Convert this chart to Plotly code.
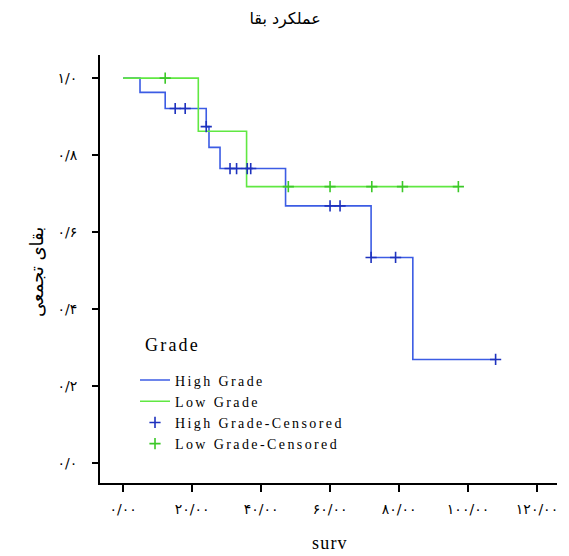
import plotly.graph_objects as go

# Kaplan-Meier step data (time, survival)
high_times = [0, 4.9, 12.2, 24.1, 24.9, 28.1, 47.1, 71.9, 84.0, 108.0]
high_surv = [1.0, 0.963, 0.921, 0.874, 0.820, 0.765, 0.668, 0.534, 0.269, 0.269]
low_times = [0, 21.8, 35.8, 97.2]
low_surv = [1.0, 0.862, 0.718, 0.718]

# Censored observations
high_cens_times = [15.1, 18.0, 24.1, 31.0, 32.9, 36.0, 37.0, 60.0, 62.9, 71.9, 79.0, 108.0]
high_cens_surv = [0.921, 0.921, 0.874, 0.765, 0.765, 0.765, 0.765, 0.668, 0.668, 0.534, 0.534, 0.269]
low_cens_times = [12.2, 47.9, 60.0, 72.1, 81.0, 97.2]
low_cens_surv = [1.0, 0.718, 0.718, 0.718, 0.718, 0.718]

# Tick labels (Persian digits)
x_tick_vals = [0, 20, 40, 60, 80, 100, 120]
x_tick_text = ["۰/۰۰", "۲۰/۰۰", "۴۰/۰۰", "۶۰/۰۰", "۸۰/۰۰", "۱۰۰/۰۰", "۱۲۰/۰۰"]
y_tick_vals = [0.0, 0.2, 0.4, 0.6, 0.8, 1.0]
y_tick_text = ["۰/۰", "۰/۲", "۰/۴", "۰/۶", "۰/۸", "۱/۰"]

series_names = ["High Grade", "Low Grade", "High Grade-Censored", "Low Grade-Censored"]

BLUE = "rgb(60,92,228)"
BLUE_DARK = "rgb(30,50,190)"
GREEN = "rgb(96,232,66)"
GREEN_DARK = "rgb(60,200,40)"
SERIF = "Liberation Serif, DejaVu Serif, serif"
AR = "DejaVu Sans, Liberation Serif, serif"


def spaced(s, px):
    return '<span style="letter-spacing:%spx">%s</span>' % (px, s)


fig = go.Figure()
fig.add_trace(go.Scatter(x=high_times, y=high_surv, mode="lines", line_shape="hv",
                         line=dict(color=BLUE, width=1.6), name=spaced(series_names[0], 2.4)))
fig.add_trace(go.Scatter(x=low_times, y=low_surv, mode="lines", line_shape="hv",
                         line=dict(color=GREEN, width=1.6), name=spaced(series_names[1], 2.4)))
fig.add_trace(go.Scatter(x=high_cens_times, y=high_cens_surv, mode="markers",
                         marker=dict(symbol="cross-thin-open", size=8, color=BLUE_DARK,
                                     line=dict(color=BLUE_DARK, width=1.6)),
                         name=spaced(series_names[2], 2.4)))
fig.add_trace(go.Scatter(x=low_cens_times, y=low_cens_surv, mode="markers",
                         marker=dict(symbol="cross-thin-open", size=8, color=GREEN_DARK,
                                     line=dict(color=GREEN_DARK, width=1.6)),
                         name=spaced(series_names[3], 2.4)))

fig.add_annotation(text=spaced("Grade", 2.2), xref="paper", yref="paper", x=0.094, y=0.3224,
                   xanchor="left", yanchor="middle", showarrow=False,
                   font=dict(family=SERIF, size=18, color="black"))
fig.add_annotation(text=spaced("surv", 1.2), xref="paper", yref="paper", x=0.503, y=-0.140,
                   xanchor="center", yanchor="middle", showarrow=False,
                   font=dict(family=SERIF, size=18, color="black"))
fig.add_annotation(text="بقای تجمعی", xref="paper", yref="paper", x=-0.138, y=0.493,
                   xanchor="center", yanchor="middle", showarrow=False, textangle=-90,
                   font=dict(family=AR, size=18, color="black"))

fig.update_layout(
    width=569, height=556,
    margin=dict(l=92, r=20, t=47, b=81),
    paper_bgcolor="white", plot_bgcolor="white",
    title=dict(text="عملکرد بقا", x=0.487, xanchor="center", y=0.982, yanchor="middle",
               font=dict(family=AR, size=16, color="black")),
    showlegend=True,
    legend=dict(x=0.0766, y=0.277, xanchor="left", yanchor="top",
                font=dict(family=SERIF, size=14, color="black"),
                bgcolor="rgba(0,0,0,0)", tracegroupgap=0, itemwidth=30),
    xaxis=dict(range=[-6.7, 125.8], tickmode="array", tickvals=x_tick_vals,
               ticktext=[spaced(t, 2.5) for t in x_tick_text],
               showgrid=False, zeroline=False, showline=True, linecolor="black", linewidth=2,
               ticks="outside", ticklen=7, tickwidth=1.5, tickcolor="black", ticklabelstandoff=5,
               tickfont=dict(family=AR, size=14, color="black")),
    yaxis=dict(range=[-0.052, 1.06], tickmode="array", tickvals=y_tick_vals,
               ticktext=[spaced(t, 2.2) for t in y_tick_text],
               showgrid=False, zeroline=False, showline=True, linecolor="black", linewidth=2,
               ticks="outside", ticklen=6, tickwidth=1.5, tickcolor="black", ticklabelstandoff=12,
               tickfont=dict(family=AR, size=14, color="black")),
)

fig.write_html("out.html")
